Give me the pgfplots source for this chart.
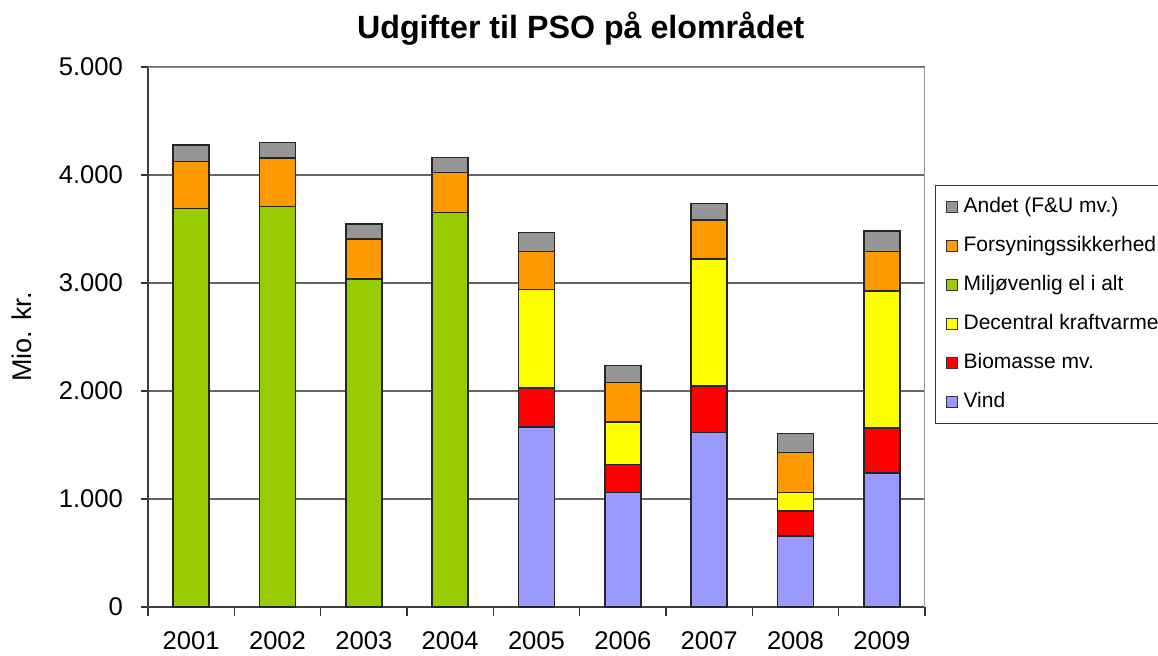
\documentclass[border=0pt]{standalone}
\usepackage{pgfplots}
\pgfplotsset{compat=1.18}
\usepackage{fontspec}
\setmainfont{Liberation Sans}
\definecolor{cA}{HTML}{969696}
\definecolor{cF}{HTML}{FF9900}
\definecolor{cM}{HTML}{99CC00}
\definecolor{cD}{HTML}{FFFF00}
\definecolor{cB}{HTML}{FF0000}
\definecolor{cV}{HTML}{9999FF}
\begin{document}
\begin{tikzpicture}
\path[use as bounding box] (0,0) rectangle (579pt,327.5pt);
\clip (0,0) rectangle (579pt,327.5pt);
\begin{pgfinterruptboundingbox}
\begin{axis}[
  at={(74pt,24pt)}, anchor=south west,
  scale only axis, width=388.5pt, height=270pt,
  ybar stacked, bar width=18pt,
  xmin=-0.5, xmax=8.5, ymin=0, ymax=5000,
  xtick={0,...,8},
  xticklabels={2001,2002,2003,2004,2005,2006,2007,2008,2009},
  minor xtick={-0.5,0.5,...,8.5},
  major x tick style={draw=none},
  minor x tick style={black!80, line width=0.7pt},
  minor tick length=4.5pt,
  ytick={0,1000,...,5000},
  major tick length=3.5pt,
  tick align=outside,
  y tick style={black!80, line width=0.7pt},
  ymajorgrids,
  grid style={black!60, line width=0.7pt},
  axis x line*=bottom, axis y line*=left,
  axis line style={black!75, line width=0.8pt},
  /pgf/number format/assume math mode=true,
  /pgf/number format/1000 sep={.},
  scaled y ticks=false,
  tick label style={font=\fontsize{12.8}{14}\selectfont},
  xticklabel style={yshift=-5.5pt},
  yticklabel style={xshift=-5.5pt},
  ylabel={Mio. kr.},
  ylabel style={font=\fontsize{13.5}{15}\selectfont, at={(axis description cs:-0.162,0.5)}, anchor=center},
  title={\textbf{Udgifter til PSO på elområdet}},
  title style={font=\fontsize{16.1}{18}\selectfont, at={(axis description cs:0.557,1.031)}, anchor=base},
  every axis plot/.append style={draw=black!85, line width=0.7pt},
  legend image code/.code={\draw[#1, draw=black!80, line width=0.5pt] (0pt,-2.75pt) rectangle (5.5pt,2.75pt);},
  reverse legend,
  legend cell align=left,
  legend style={at={(axis description cs:1.0129,0.7815)}, anchor=north west,
    draw=black!80, line width=0.6pt, fill=white,
    font=\fontsize{10.5}{12}\selectfont,
    inner xsep=5pt, inner ysep=5.5pt, row sep=9pt,
    nodes={inner sep=0pt, text height=8pt, text depth=2.5pt},
    /tikz/every odd column/.append style={column sep=3pt}},
]
\addplot[fill=cV] coordinates {(0,0) (1,0) (2,0) (3,0) (4,1667) (5,1062) (6,1618) (7,657) (8,1241)};
\addplot[fill=cB] coordinates {(0,0) (1,0) (2,0) (3,0) (4,361) (5,259) (6,428) (7,232) (8,416)};
\addplot[fill=cD] coordinates {(0,0) (1,0) (2,0) (3,0) (4,910) (5,392) (6,1176) (7,173) (8,1269)};
\addplot[fill=cM] coordinates {(0,3688) (1,3710) (2,3037) (3,3655) (4,0) (5,0) (6,0) (7,0) (8,0)};
\addplot[fill=cF] coordinates {(0,435) (1,447) (2,370) (3,366) (4,355) (5,367) (6,361) (7,370) (8,367)};
\addplot[fill=cA] coordinates {(0,155) (1,142) (2,139) (3,139) (4,176) (5,154) (6,151) (7,176) (8,188)};
\legend{Vind, Biomasse mv., Decentral kraftvarme, Miljøvenlig el i alt, Forsyningssikkerhed, Andet (F\&U mv.)}
\draw[black!40, line width=0.8pt] (rel axis cs:0,1) -- (rel axis cs:1,1) -- (rel axis cs:1,0);
\end{axis}
\end{pgfinterruptboundingbox}
\end{tikzpicture}
\end{document}
